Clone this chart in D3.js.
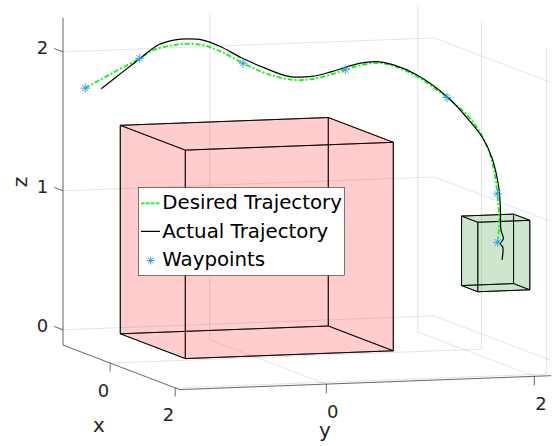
<!DOCTYPE html>
<html>
<head>
<meta charset="utf-8">
<script src="https://cdnjs.cloudflare.com/ajax/libs/d3/7.8.5/d3.min.js"></script>
<style>
    body { margin: 0; background: #fff; }
    svg text { font-family: "DejaVu Sans", sans-serif; fill: #262626; }
</style>
</head>
<body>
<div id="chart"></div>
<script>
// Axis limits and ticks
var xLim = [-1.45, 2.14];
var yLim = [-1.41, 2.16];
var zLim = [-0.11, 2.245];
var xTicks = [0, 2];
var yTicks = [0, 2];
var zTicks = [0, 1, 2];

// Boxes: min corner, max corner
var obstacleMin = [-1, -1, 0];
var obstacleMax = [1, 1, 1.5];
var goalMin = [1.5, 1.5, 0.5];
var goalMax = [2, 2, 1];

// [x, y, z]
var waypoints = [
    [-1.0, -1.337, 1.777],
    [-0.5, -0.969, 2.026],
    [0.0, -0.133, 2.012],
    [0.5, 0.695, 1.986],
    [1.0, 1.516, 1.808],
    [1.5, 1.844, 1.150],
    [1.75, 1.770, 0.826]
];

var desired = [
    [-1.0, -1.337, 1.777],
    [-0.75, -1.155, 1.902],
    [-0.5, -0.969, 2.026],
    [-0.42, -0.845, 2.094],
    [-0.33, -0.681, 2.130],
    [-0.25, -0.581, 2.141],
    [-0.18, -0.468, 2.137],
    [-0.1, -0.320, 2.094],
    [0.0, -0.133, 2.012],
    [0.1, 0.050, 1.944],
    [0.2, 0.276, 1.899],
    [0.3, 0.437, 1.908],
    [0.4, 0.598, 1.948],
    [0.5, 0.695, 1.986],
    [0.58, 0.814, 2.022],
    [0.66, 0.950, 2.041],
    [0.74, 1.081, 2.025],
    [0.85, 1.275, 1.952],
    [1.0, 1.516, 1.808],
    [1.1, 1.677, 1.688],
    [1.2, 1.774, 1.564],
    [1.3, 1.832, 1.426],
    [1.4, 1.846, 1.300],
    [1.5, 1.844, 1.150],
    [1.62, 1.825, 0.975],
    [1.75, 1.770, 0.826]
];

var actual = [
    [-0.9, -1.214, 1.778],
    [-0.7, -1.046, 1.927],
    [-0.5, -0.974, 2.020],
    [-0.42, -0.813, 2.126],
    [-0.33, -0.681, 2.166],
    [-0.25, -0.578, 2.177],
    [-0.18, -0.471, 2.173],
    [-0.1, -0.320, 2.128],
    [0.0, -0.142, 2.049],
    [0.1, 0.050, 1.980],
    [0.2, 0.243, 1.925],
    [0.3, 0.437, 1.928],
    [0.4, 0.598, 1.967],
    [0.58, 0.814, 2.038],
    [0.66, 0.950, 2.052],
    [0.74, 1.084, 2.032],
    [0.85, 1.275, 1.964],
    [1.0, 1.516, 1.815],
    [1.1, 1.690, 1.655],
    [1.2, 1.795, 1.530],
    [1.3, 1.858, 1.385],
    [1.45, 1.872, 1.198],
    [1.55, 1.857, 1.063],
    [1.65, 1.832, 0.905],
    [1.72, 1.833, 0.847],
    [1.75, 1.794, 0.814],
    [1.75, 1.818, 0.792],
    [1.75, 1.811, 0.699]
];

var legendLabels = ["Desired Trajectory", "Actual Trajectory", "Waypoints"];

var width = 555,
    height = 446;

// screen position of the (xmin, ymin, zmin) corner and the three box edges
var origin = [63, 345.1],
    ex = [116.7, 44.5],
    ey = [371.3, -13.9],
    ez = [0, -327.3];

var xScale = d3.scaleLinear().domain(xLim).range([0, 1]);
var yScale = d3.scaleLinear().domain(yLim).range([0, 1]);
var zScale = d3.scaleLinear().domain(zLim).range([0, 1]);

function project(p) {
    var a = xScale(p[0]), b = yScale(p[1]), c = zScale(p[2]);
    return [origin[0] + a * ex[0] + b * ey[0] + c * ez[0],
            origin[1] + a * ex[1] + b * ey[1] + c * ez[1]];
}

var svg = d3.select("#chart")
    .append("svg")
    .attr("width", width)
    .attr("height", height);

// Grid lines on floor and back walls
var grid = [];
xTicks.forEach(function(t) {
    grid.push([[t, yLim[0], zLim[0]], [t, yLim[1], zLim[0]]]);
    grid.push([[t, yLim[1], zLim[0]], [t, yLim[1], zLim[1]]]);
});
yTicks.forEach(function(t) {
    grid.push([[xLim[0], t, zLim[0]], [xLim[1], t, zLim[0]]]);
    grid.push([[xLim[0], t, zLim[0]], [xLim[0], t, zLim[1]]]);
});
zTicks.forEach(function(t) {
    grid.push([[xLim[0], yLim[0], t], [xLim[0], yLim[1], t]]);
    grid.push([[xLim[0], yLim[1], t], [xLim[1], yLim[1], t]]);
});

var seg = d3.line()
    .x(function(d) { return project(d)[0]; })
    .y(function(d) { return project(d)[1]; });

svg.append("g")
    .selectAll("path")
    .data(grid)
    .enter()
    .append("path")
    .attr("d", seg)
    .attr("fill", "none")
    .attr("stroke", "#262626")
    .attr("stroke-opacity", 0.15)
    .attr("stroke-width", 0.8);

// Axis lines
var axisLines = [
    [[xLim[0], yLim[0], zLim[0]], [xLim[1], yLim[0], zLim[0]]],
    [[xLim[1], yLim[0], zLim[0]], [xLim[1], yLim[1], zLim[0]]],
    [[xLim[0], yLim[0], zLim[0]], [xLim[0], yLim[0], zLim[1]]]
];
// ticks
xTicks.forEach(function(t) {
    axisLines.push([[t, yLim[0], zLim[0]], [t, yLim[0], zLim[0] - 0.062]]);
});
yTicks.forEach(function(t) {
    axisLines.push([[xLim[1], t, zLim[0]], [xLim[1], t, zLim[0] - 0.065]]);
});
zTicks.forEach(function(t) {
    axisLines.push([[xLim[0], yLim[0], t], [xLim[0] - 0.27, yLim[0], t]]);
});

svg.append("g")
    .selectAll("path")
    .data(axisLines)
    .enter()
    .append("path")
    .attr("d", seg)
    .attr("fill", "none")
    .attr("stroke", "#262626")
    .attr("stroke-width", 0.7);

// Tick labels
svg.append("g")
    .selectAll("text")
    .data(xTicks)
    .enter()
    .append("text")
    .attr("x", function(d) { return project([d, yLim[0], zLim[0]])[0] - 6.7; })
    .attr("y", function(d) { return project([d, yLim[0], zLim[0]])[1] + 33.6; })
    .attr("text-anchor", "middle")
    .style("font-size", "18px")
    .text(function(d) { return d; });

svg.append("g")
    .selectAll("text")
    .data(yTicks)
    .enter()
    .append("text")
    .attr("x", function(d) { return project([xLim[1], d, zLim[0]])[0] + 6.5; })
    .attr("y", function(d) { return project([xLim[1], d, zLim[0]])[1] + 33.8; })
    .attr("text-anchor", "middle")
    .style("font-size", "18px")
    .text(function(d) { return d; });

svg.append("g")
    .selectAll("text")
    .data(zTicks)
    .enter()
    .append("text")
    .attr("x", function(d) { return project([xLim[0], yLim[0], d])[0] - 14.7; })
    .attr("y", function(d) { return project([xLim[0], yLim[0], d])[1] + 2.1; })
    .attr("text-anchor", "end")
    .style("font-size", "18px")
    .text(function(d) { return d; });

// Axis labels
svg.append("text")
    .attr("x", 99)
    .attr("y", 431.5)
    .attr("text-anchor", "middle")
    .style("font-size", "20px")
    .text("x");

svg.append("text")
    .attr("x", 325)
    .attr("y", 437)
    .attr("text-anchor", "middle")
    .style("font-size", "20px")
    .text("y");

svg.append("text")
    .attr("transform", "translate(26.9,182) rotate(-90)")
    .attr("text-anchor", "middle")
    .style("font-size", "20px")
    .text("z");

// Boxes
function boxFaces(mn, mx) {
    var c = function(i, j, k) {
        return [i ? mx[0] : mn[0], j ? mx[1] : mn[1], k ? mx[2] : mn[2]];
    };
    return [
        [c(0, 0, 0), c(0, 1, 0), c(0, 1, 1), c(0, 0, 1)],
        [c(1, 0, 0), c(1, 1, 0), c(1, 1, 1), c(1, 0, 1)],
        [c(0, 0, 0), c(1, 0, 0), c(1, 0, 1), c(0, 0, 1)],
        [c(0, 1, 0), c(1, 1, 0), c(1, 1, 1), c(0, 1, 1)],
        [c(0, 0, 0), c(1, 0, 0), c(1, 1, 0), c(0, 1, 0)],
        [c(0, 0, 1), c(1, 0, 1), c(1, 1, 1), c(0, 1, 1)]
    ];
}

function drawBox(mn, mx, color) {
    svg.append("g")
        .selectAll("path")
        .data(boxFaces(mn, mx))
        .enter()
        .append("path")
        .attr("d", function(d) { return seg(d) + "Z"; })
        .attr("fill", color)
        .attr("fill-opacity", 0.1)
        .attr("stroke", "#000")
        .attr("stroke-width", 0.8)
        .attr("stroke-linejoin", "round");
}

drawBox(obstacleMin, obstacleMax, "#ff0000");
drawBox(goalMin, goalMax, "#008000");

// Trajectories
var curve = d3.line()
    .x(function(d) { return project(d)[0]; })
    .y(function(d) { return project(d)[1]; })
    .curve(d3.curveCatmullRom.alpha(0.5));

svg.append("path")
    .datum(desired)
    .attr("d", curve)
    .attr("fill", "none")
    .attr("stroke", "#00ff00")
    .attr("stroke-width", 1.8)
    .attr("stroke-dasharray", "5,2,2,2");

svg.append("path")
    .datum(actual)
    .attr("d", curve)
    .attr("fill", "none")
    .attr("stroke", "#000")
    .attr("stroke-width", 1.2);

function asterisk(cx, cy, r) {
    var d = r * 0.707;
    return "M" + (cx - r) + "," + cy + "h" + (2 * r) +
        "M" + cx + "," + (cy - r) + "v" + (2 * r) +
        "M" + (cx - d) + "," + (cy - d) + "l" + (2 * d) + "," + (2 * d) +
        "M" + (cx - d) + "," + (cy + d) + "l" + (2 * d) + "," + (-2 * d);
}

svg.append("g")
    .selectAll("path")
    .data(waypoints)
    .enter()
    .append("path")
    .attr("d", function(d) {
        var p = project(d);
        return asterisk(p[0], p[1], 4.5);
    })
    .attr("fill", "none")
    .attr("stroke", "#3d9be3")
    .attr("stroke-width", 1);

// Legend
var legend = svg.append("g");

legend.append("rect")
    .attr("x", 138.5)
    .attr("y", 187.5)
    .attr("width", 206)
    .attr("height", 88)
    .attr("fill", "#fff")
    .attr("stroke", "#262626")
    .attr("stroke-width", 0.6);

var rows = legend.selectAll("g.row")
    .data(legendLabels)
    .enter()
    .append("g")
    .attr("class", "row")
    .attr("transform", function(d, i) {
        return "translate(0," + (i * 28.4) + ")";
    });

rows.append("text")
    .attr("x", 162.3)
    .attr("y", 209.3)
    .style("font-size", "19.8px")
    .style("fill", "#000")
    .text(function(d) { return d; });

rows.filter(function(d, i) { return i === 0; })
    .append("line")
    .attr("x1", 141).attr("x2", 160)
    .attr("y1", 203.3).attr("y2", 203.3)
    .attr("stroke", "#00ff00")
    .attr("stroke-width", 1.8)
    .attr("stroke-dasharray", "3.5,1.5");

rows.filter(function(d, i) { return i === 1; })
    .append("line")
    .attr("x1", 141).attr("x2", 160)
    .attr("y1", 203).attr("y2", 203)
    .attr("stroke", "#000")
    .attr("stroke-width", 1.2);

rows.filter(function(d, i) { return i === 2; })
    .append("path")
    .attr("d", asterisk(150.7, 203.7, 4))
    .attr("fill", "none")
    .attr("stroke", "#3d9be3")
    .attr("stroke-width", 1);
</script>
</body>
</html>
